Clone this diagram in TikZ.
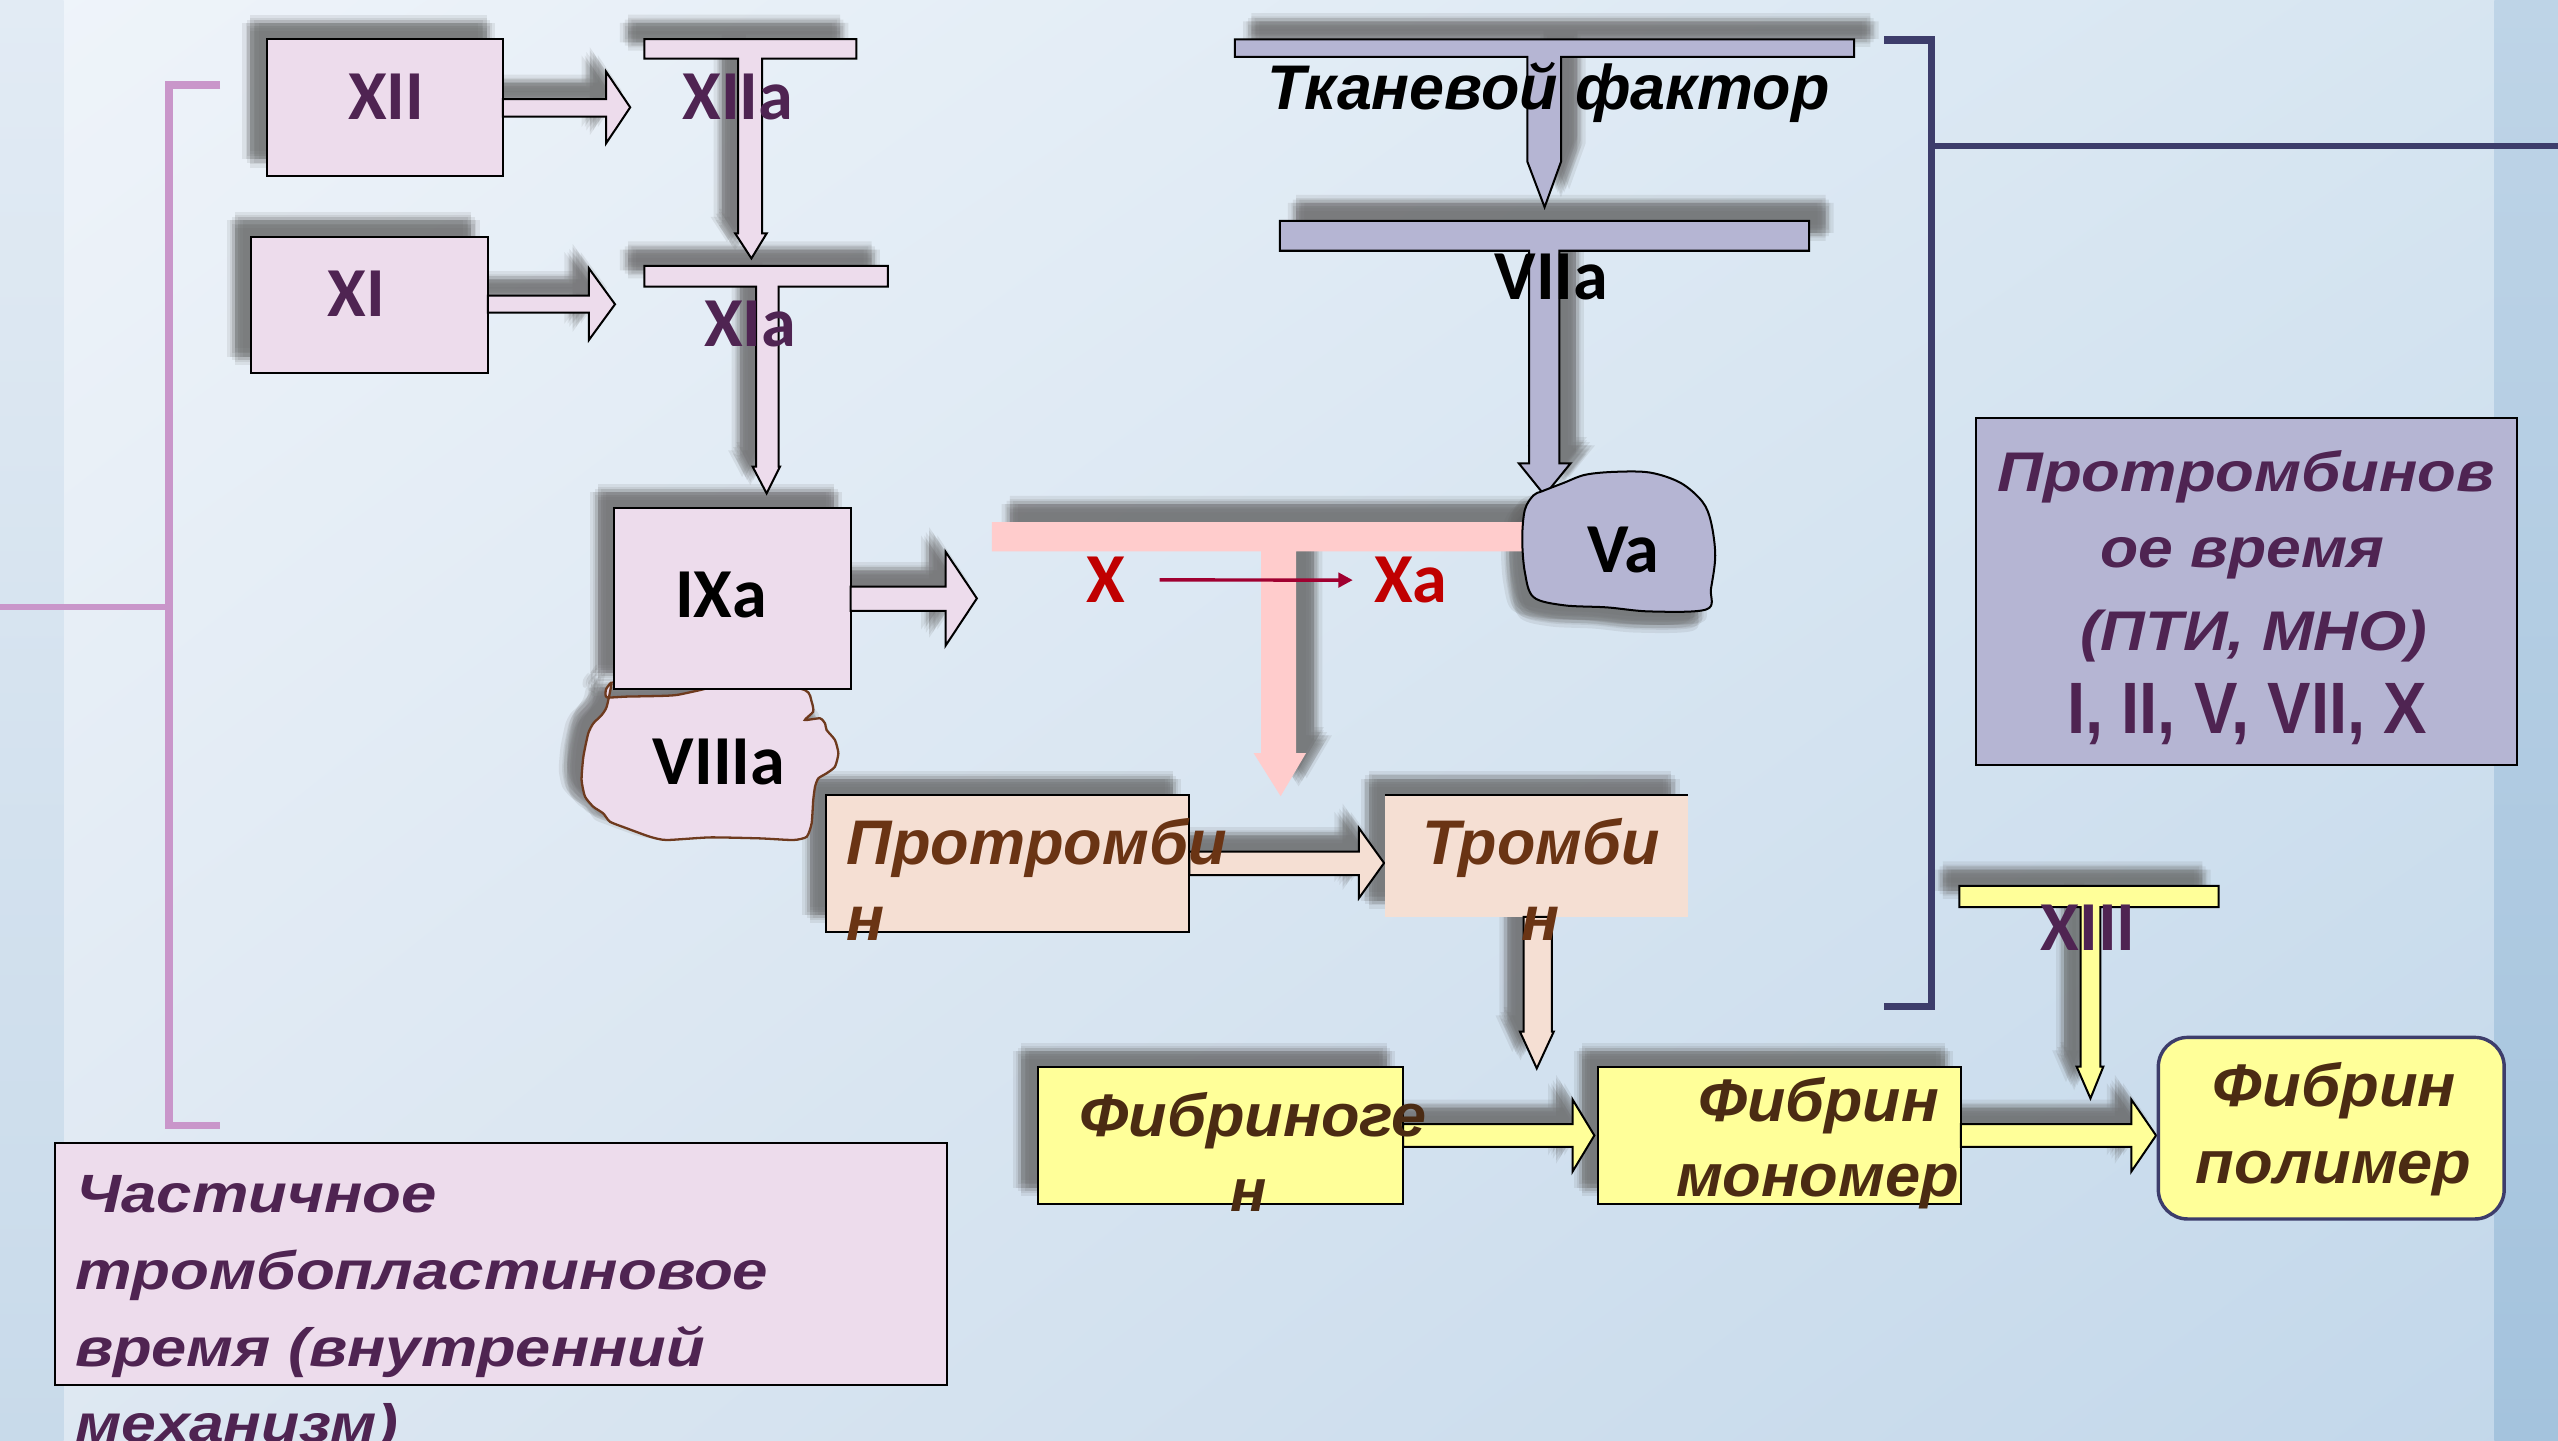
\documentclass[tikz,border=0pt]{standalone}
\usepackage{fontspec}
\usepackage{graphicx}
\setmainfont{Liberation Sans}
\newfontfamily\cb{Carlito}
\usetikzlibrary{arrows.meta,shadings}
\definecolor{pinkf}{HTML}{EDDCEC}
\definecolor{lavf}{HTML}{B5B5D3}
\definecolor{pinkT}{HTML}{FFCCCC}
\definecolor{peach}{HTML}{F5DFD3}
\definecolor{yel}{HTML}{FFFF99}
\definecolor{purp}{HTML}{4F2452}
\definecolor{brA}{HTML}{6A3414}
\definecolor{brB}{HTML}{4B2B13}
\definecolor{redt}{HTML}{C00000}
\definecolor{reda}{HTML}{A00030}
\definecolor{orch}{HTML}{C996CA}
\definecolor{navy}{HTML}{3D3D6B}
\definecolor{cloudbr}{HTML}{6E3A1E}
\definecolor{bgTL}{HTML}{EFF4FA}
\definecolor{bgTR}{HTML}{D6E5F1}
\definecolor{bgBL}{HTML}{DEE8F2}
\definecolor{bgBR}{HTML}{C2D7EA}
\definecolor{lsT}{HTML}{E2EBF4}
\definecolor{lsB}{HTML}{C8DAEA}
\definecolor{rsT}{HTML}{BED4E7}
\definecolor{rsB}{HTML}{A4C3DD}
\colorlet{shc}{black!60}
\newcommand\rn[1]{\cb\bfseries\fontsize{24.5pt}{28pt}\selectfont #1}
\newcommand\cyr[3]{\resizebox{#2}{\height}{\fontsize{#1}{#1}\selectfont\bfseries\itshape #3}}
\newcommand\shd[2]{\begin{scope}[shift={#1}]\foreach \dx/\dy in {0/0,3/0,-3/0,0/3,0/-3,2/2,-2/-2,2/-2,-2/2,5/0,-5/0,0/5,0/-5}{\fill[shc,opacity=.12,xshift=\dx*0.02cm,yshift=-\dy*0.02cm] #2;}\end{scope}}
\tikzset{
  txt/.style={inner sep=0pt, outer sep=0pt},
  bx/.style={draw=black, line width=0.7pt},
}
% shape paths
\def\rXII{(163.5,24) rectangle (308.3,107.7)}
\def\aXII{(308.3,60.7) -- (371.5,60.7) -- (371.5,43.9) -- (386.3,65.8) -- (371.5,87.9) -- (371.5,71.5) -- (308.3,71.5) -- cycle}
\def\tXIIa{(395,24) -- (525,24) -- (525,36) -- (467.2,36) -- (467.2,143) -- (470,143) -- (460.6,158.4) -- (450.6,143) -- (452.5,143) -- (452.5,36) -- (395,36) -- cycle}
\def\rXI{(154,145) rectangle (299,228.6)}
\def\aXI{(299,181.2) -- (361,181.2) -- (361,164.5) -- (377,186.5) -- (361,208.4) -- (361,191.7) -- (299,191.7) -- cycle}
\def\tXIa{(395,163) -- (544.3,163) -- (544.3,175.7) -- (477.3,175.7) -- (477.3,286) -- (478.1,286) -- (469.9,302.4) -- (461.3,286) -- (463.5,286) -- (463.5,175.7) -- (395,175.7) -- cycle}
\def\rIXa{(376.6,311.6) rectangle (521.4,422.5)}
\def\aIXa{(521.4,359.6) -- (579.6,359.6) -- (579.6,338.2) -- (598.8,366.8) -- (579.6,395.8) -- (579.6,374.5) -- (521.4,374.5) -- cycle}
\def\cVIII{plot[smooth cycle, tension=0.35] coordinates {(374.9,418.5) (371.5,422.5) (371.9,427.4) (384.1,427) (404.6,426.6) (414.8,426) (429.1,423) (460,416) (493.4,423) (497.5,430.1) (498.5,436.2) (493.4,441.3) (502.6,440.3) (505.7,443.4) (506.7,447.5) (511.8,453.6) (513.9,461.8) (511.8,470) (506.7,474) (501.6,477.1) (499.6,482.2) (498.5,490.4) (497.5,504.7) (494.5,512.9) (486.3,514.9) (465.9,513.9) (435.2,513.3) (408.6,514.9) (398.4,512.9) (384.1,507.7) (373.9,503.7) (369.8,498.6) (363.7,494.5) (358.6,488.3) (356.5,478.1) (357.6,463.8) (360.6,449.5) (363.7,443.4) (368.8,438.3) (371.9,433.2)}}
\def\tPink{(608,320) -- (945,320) -- (945,338) -- (794.5,338) -- (794.5,461.7) -- (800.5,461.7) -- (785,488) -- (768.5,461.7) -- (773,461.7) -- (773,338) -- (608,338) -- cycle}
\def\tTF{(757,24.1) -- (1136.5,24.1) -- (1136.5,34.8) -- (956.9,34.8) -- (956.9,99) -- (946.8,127) -- (936.2,99) -- (936.2,34.8) -- (757,34.8) -- cycle}
\def\tVII{(784.5,135.4) -- (1109,135.4) -- (1109,153.7) -- (955.9,153.7) -- (955.9,284) -- (962.7,284) -- (946.8,303.6) -- (931,284) -- (937.3,284) -- (937.3,153.7) -- (784.5,153.7) -- cycle}
\def\cVa{plot[smooth cycle, tension=0.55] coordinates {(945.3,301.1) (958.5,296) (971.8,291) (990.4,289.2) (1011.6,289.7) (1030.2,296) (1043.5,307.5) (1048.8,320) (1051.4,340.5) (1048.8,360.8) (1046.1,373.5) (1011.6,374.8) (985,372.3) (958.5,371) (940,366) (934.7,350.7) (933.1,330.3) (934.7,312.5) (940,303.6)}}
\def\rPro{(506.5,487.5) rectangle (729,571)}
\def\aPro{(729,522) -- (833,522) -- (833,507.6) -- (848.4,529) -- (833,550.5) -- (833,536.4) -- (729,536.4) -- cycle}
\def\rTro{(849,487.3) rectangle (1034.5,562)}
\def\aTro{(934,562) -- (951.2,562) -- (951.2,632.4) -- (952.4,632.4) -- (942,654.9) -- (931.7,632.4) -- (934,632.4) -- cycle}
\def\rFg{(636,654.2) rectangle (860,738)}
\def\aFg{(860,689) -- (963.9,689) -- (963.9,673.9) -- (977.3,696) -- (963.9,718.2) -- (963.9,703) -- (860,703) -- cycle}
\def\rFm{(979.6,654.2) rectangle (1202,738)}
\def\aFm{(1202,689) -- (1306.4,689) -- (1306.4,673.9) -- (1321.6,696) -- (1306.4,718.2) -- (1306.4,703) -- (1202,703) -- cycle}
\def\tXIII{(1201,543) -- (1360,543) -- (1360,556) -- (1287.5,556) -- (1287.5,653.8) -- (1289.3,653.8) -- (1281.4,673.3) -- (1272.9,653.8) -- (1275.3,653.8) -- (1275.3,556) -- (1201,556) -- cycle}
\begin{document}
\begin{tikzpicture}[x=0.02cm, y=-0.02cm]
\useasboundingbox (0,0) rectangle (1568,883);
\clip (0,0) rectangle (1568,883);
% background
\shade[upper left=bgTL, upper right=bgTR, lower left=bgBL, lower right=bgBR] (0,0) rectangle (1568,883);
\shade[top color=lsT, bottom color=lsB] (0,0) rectangle (39,883);
\shade[top color=rsT, bottom color=rsB] (1529,0) rectangle (1568,883);
% brackets
\draw[orch, line width=2.6pt] (135,52) -- (103.5,52) -- (103.5,690) -- (135,690);
\draw[orch, line width=2pt] (0,372) -- (103.5,372);
\draw[navy, line width=2.6pt] (1155,24.5) -- (1184,24.5) -- (1184,617) -- (1155,617);
\draw[navy, line width=2.2pt] (1184,89.7) -- (1568,89.7);
% shadows
\shd{(-10,-10)}{\rXII}
\shd{(-10,-10)}{\aXII}
\shd{(-10,-10)}{\tXIIa}
\shd{(-10,-10)}{\rXI}
\shd{(-10,-10)}{\aXI}
\shd{(-10,-10)}{\tXIa}
\shd{(-10,-10)}{\rIXa}
\shd{(-10,-10)}{\aIXa}
\shd{(-9,-6)}{\cVIII}
\shd{(11,-11)}{\tPink}
\shd{(10,-11)}{\tTF}
\shd{(10,-11)}{\tVII}
\shd{(-8,8)}{\cVa}
\shd{(-10,-10)}{\rPro}
\shd{(-10,-10)}{\aPro}
\shd{(-10,-10)}{\rTro}
\shd{(-10,-10)}{\aTro}
\shd{(-10,-10)}{\rFg}
\shd{(-10,-10)}{\aFg}
\shd{(-10,-10)}{\rFm}
\shd{(-10,-10)}{\aFm}
\shd{(-10,-10)}{\tXIII}
% shapes
\filldraw[bx, fill=pinkf] \rXII;
\filldraw[bx, fill=pinkf] \aXII;
\filldraw[bx, fill=pinkf] \tXIIa;
\filldraw[bx, fill=pinkf] \rXI;
\filldraw[bx, fill=pinkf] \aXI;
\filldraw[bx, fill=pinkf] \tXIa;
\filldraw[draw=cloudbr, line width=0.8pt, fill=pinkf] \cVIII;
\filldraw[bx, fill=pinkf] \rIXa;
\filldraw[bx, fill=pinkf] \aIXa;
\fill[pinkT] \tPink;
\filldraw[bx, fill=lavf] \tTF;
\filldraw[bx, fill=lavf] \tVII;
\filldraw[bx, fill=lavf] \cVa;
\filldraw[bx, fill=peach] \rPro;
\filldraw[bx, fill=peach] \aPro;
\fill[peach] \rTro;
\draw[black, line width=0.8pt] (849,487.3) -- (1034.5,487.3);
\filldraw[bx, fill=peach] \aTro;
\filldraw[bx, fill=yel] \rFg;
\filldraw[bx, fill=yel] \aFg;
\filldraw[bx, fill=yel] \rFm;
\filldraw[bx, fill=yel] \aFm;
\filldraw[draw=navy, line width=1.2pt, fill=yel, rounded corners=0.36cm] (1323,635.9) rectangle (1535,747.2);
\filldraw[bx, fill=yel] \tXIII;
\filldraw[bx, fill=lavf] (1211,256) rectangle (1543,469);
\filldraw[bx, fill=pinkf] (34,700.8) rectangle (580.6,849);
% roman numeral labels
\node[txt, anchor=base, text=purp] (nXII) at (236.8,73.1) {\rn{XII}};
\node[txt, anchor=base, text=purp] (nXIIa) at (452.2,73) {\rn{XIIa}};
\node[txt, anchor=base, text=purp] (nXI) at (218.3,193.7) {\rn{XI}};
\node[txt, anchor=base, text=purp] (nXIa) at (459.8,212.5) {\rn{XIa}};
\node[txt, anchor=base, text=black] (nIXa) at (442,378.4) {\rn{IXa}};
\node[txt, anchor=base, text=black] (nVIIIa) at (440.8,480.6) {\rn{VIIIa}};
\node[txt, anchor=base, text=redt] (nX) at (678,369.4) {\rn{X}};
\node[txt, anchor=base, text=redt] (nXa) at (864.7,369.4) {\rn{Xa}};
\node[txt, anchor=base, text=black] (nVa) at (995,350.8) {\rn{Va}};
\node[txt, anchor=base, text=black] (nVIIa) at (951,183.5) {\rn{VIIa}};
\node[txt, anchor=base, text=purp] (nXIII) at (1280,582.5) {\rn{XIII}};
\draw[reda, line width=1.2pt, -{Triangle[length=5pt,width=5pt]}, shorten <=0.42cm, shorten >=0.26cm] (nX.east) -- (nXa.west);
% cyrillic labels
\node[txt, anchor=base west, text=black] (tf) at (777,67.3) {\cyr{22pt}{6.89cm}{Тканевой фактор}};
\node[txt, anchor=base west, text=purp] (pv1) at (1224.4,301) {\cyr{19.5pt}{6.10cm}{Протромбинов}};
\node[txt, anchor=base west, text=purp] (pv2) at (1287.6,348) {\cyr{19.5pt}{3.48cm}{ое время}};
\node[txt, anchor=base west, text=purp] (pv3) at (1275,399) {\cyr{19.5pt}{4.26cm}{(ПТИ, МНО)}};
\node[txt, anchor=base west, text=purp] (pv4) at (1267.3,449.8) {\resizebox{4.41cm}{\height}{\fontsize{25.4pt}{25.4pt}\selectfont\bfseries I, II, V, VII, X}};
\node[txt, anchor=base west, text=purp] (ch1) at (47,743.4) {\cyr{18.8pt}{4.42cm}{Частичное}};
\node[txt, anchor=base west, text=purp] (ch2) at (46,790.4) {\cyr{18.8pt}{8.50cm}{тромбопластиновое}};
\node[txt, anchor=base west, text=purp] (ch3) at (46,837.4) {\cyr{18.8pt}{7.72cm}{время (внутренний}};
\node[txt, anchor=base west, text=purp] (ch4) at (46,884.4) {\cyr{18.8pt}{3.96cm}{механизм)}};
\node[txt, anchor=base west, text=brA] (pr1) at (519,530) {\cyr{22pt}{4.66cm}{Протромби}};
\node[txt, anchor=base west, text=brA] (pr2) at (519,576.8) {\fontsize{22pt}{22pt}\selectfont\bfseries\itshape н};
\node[txt, anchor=base west, text=brA] (tr1) at (871.7,530) {\cyr{22pt}{2.91cm}{Тромби}};
\node[txt, anchor=base west, text=brA] (tr2) at (932.7,576.8) {\fontsize{22pt}{22pt}\selectfont\bfseries\itshape н};
\node[txt, anchor=base west, text=brB] (fg1) at (661.7,696.5) {\cyr{21pt}{4.26cm}{Фибриноге}};
\node[txt, anchor=base west, text=brB] (fg2) at (754,742.7) {\fontsize{21pt}{21pt}\selectfont\bfseries\itshape н};
\node[txt, anchor=base west, text=brB] (fm1) at (1041,687.6) {\cyr{21pt}{2.95cm}{Фибрин}};
\node[txt, anchor=base west, text=brB] (fm2) at (1027.4,733.5) {\cyr{21pt}{3.47cm}{мономер}};
\node[txt, anchor=base west, text=brB] (fp1) at (1356.5,678.4) {\cyr{21pt}{2.98cm}{Фибрин}};
\node[txt, anchor=base west, text=brB] (fp2) at (1346,725.4) {\cyr{21pt}{3.38cm}{полимер}};
\end{tikzpicture}
\end{document}
